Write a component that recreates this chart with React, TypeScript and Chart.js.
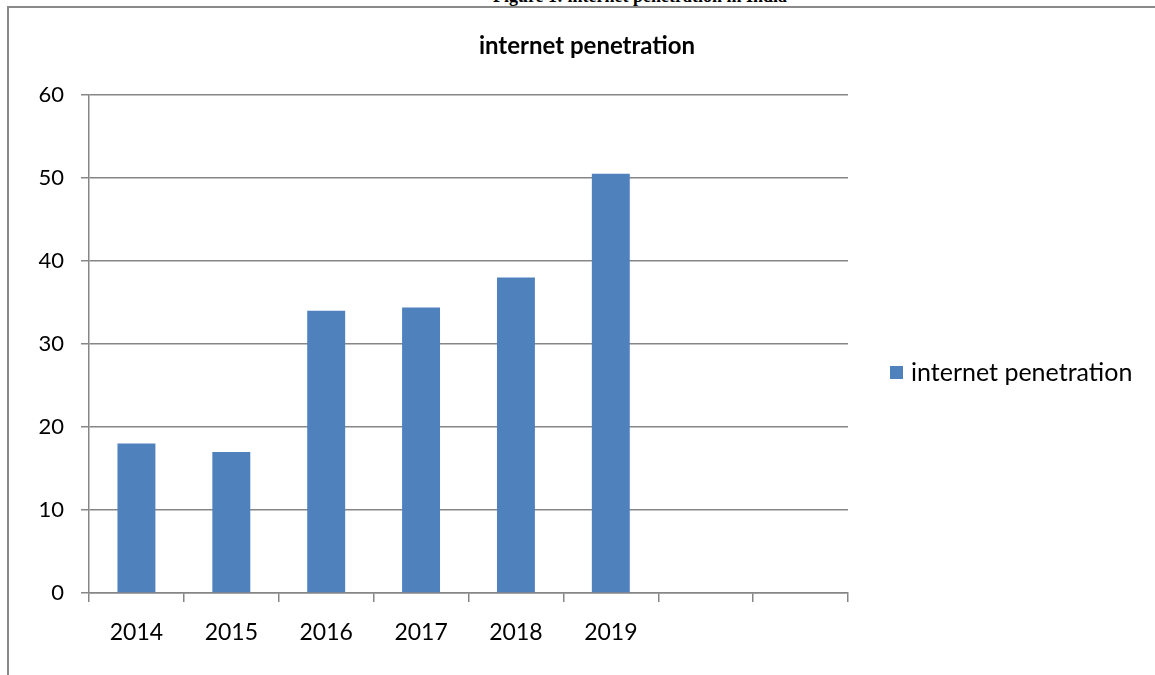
import React, { useEffect, useRef } from "react";
import { Chart, registerables } from "chart.js";

Chart.register(...registerables);

const categories: string[] = ["2014", "2015", "2016", "2017", "2018", "2019", "", ""];
const penetration: (number | null)[] = [18, 17, 34, 34.4, 38, 50.5, null, null];
const seriesName = "internet penetration";
const chartTitle = "internet penetration";
const captionText = "Figure 1: internet penetration in India";
const yMin = 0;
const yMax = 60;
const yStep = 10;

const BAR_COLOR = "#4F81BD";
const GRID_COLOR = "#868686";

const CHART_LEFT = 89;
const CHART_RIGHT = 848;
const CHART_TOP = 95;
const CHART_BOTTOM = 593;
const W = 1155;
const H = 675;

const decorPlugin = {
  id: "decor",
  afterDraw(chart: any) {
    const ctx = chart.ctx as CanvasRenderingContext2D;
    // title
    ctx.save();
    ctx.fillStyle = "#000";
    ctx.font = "bold 24px Lato";
    ctx.textAlign = "center";
    ctx.textBaseline = "alphabetic";
    ctx.fillText(chartTitle, 587, 54);
    ctx.restore();
    // legend
    const ds = chart.data.datasets[0];
    ctx.save();
    ctx.fillStyle = ds.backgroundColor;
    ctx.fillRect(890, 366, 13, 13);
    ctx.fillStyle = "#000";
    ctx.font = "25px Lato";
    ctx.textAlign = "left";
    ctx.textBaseline = "alphabetic";
    ctx.fillText(ds.label, 911, 381);
    ctx.restore();
  },
};

export default function App() {
  const ref = useRef<HTMLCanvasElement | null>(null);
  useEffect(() => {
    const canvas = ref.current;
    if (!canvas) return;
    const chart = new Chart(canvas, {
      type: "bar",
      data: {
        labels: categories,
        datasets: [
          {
            label: seriesName,
            data: penetration,
            backgroundColor: BAR_COLOR,
            borderWidth: 0,
            barPercentage: 0.4,
            categoryPercentage: 1,
          },
        ],
      },
      options: {
        animation: false,
        responsive: false,
        maintainAspectRatio: false,
        layout: {
          padding: { left: 0, top: CHART_TOP, right: W - CHART_RIGHT, bottom: 0 },
        },
        plugins: {
          legend: { display: false },
          title: { display: false },
          tooltip: { enabled: false },
        },
        scales: {
          x: {
            type: "category",
            offset: true,
            afterFit: (s: any) => {
              s.height = H - CHART_BOTTOM;
            },
            grid: {
              offset: true,
              drawOnChartArea: false,
              drawTicks: true,
              tickLength: 9,
              color: GRID_COLOR,
              lineWidth: 1.5,
            },
            border: { display: true, color: GRID_COLOR, width: 1.5 },
            ticks: {
              color: "#000",
              font: { family: "Lato", size: 23 },
              padding: 17,
              maxRotation: 0,
              autoSkip: false,
            },
          },
          y: {
            min: yMin,
            max: yMax,
            afterFit: (s: any) => {
              s.width = CHART_LEFT;
            },
            grid: {
              color: GRID_COLOR,
              lineWidth: 1.5,
              drawTicks: true,
              tickLength: 8,
            },
            border: { display: true, color: GRID_COLOR, width: 1.5 },
            ticks: {
              stepSize: yStep,
              color: "#000",
              font: { family: "Lato", size: 22 },
              padding: 17,
            },
          },
        },
      },
      plugins: [decorPlugin],
    });
    return () => chart.destroy();
  }, []);

  return (
    <div
      style={{
        position: "fixed",
        left: 0,
        top: 0,
        width: W,
        height: H,
        overflow: "hidden",
        background: "#fff",
      }}
    >
      <div
        style={{
          position: "absolute",
          left: 0,
          width: 1280,
          top: -14,
          textAlign: "center",
          fontFamily: "'Liberation Serif', 'Times New Roman', serif",
          fontWeight: "bold",
          fontSize: 18,
          lineHeight: "20px",
          color: "#000",
          whiteSpace: "nowrap",
        }}
      >
        {captionText}
      </div>
      <div
        style={{
          position: "absolute",
          left: 7,
          top: 6,
          width: 1300,
          height: 900,
          border: "2px solid #8a8a8a",
          boxSizing: "border-box",
        }}
      />
      <canvas
        ref={ref}
        width={W}
        height={H}
        style={{ position: "absolute", left: 0, top: 0, width: W, height: H }}
      />
    </div>
  );
}
